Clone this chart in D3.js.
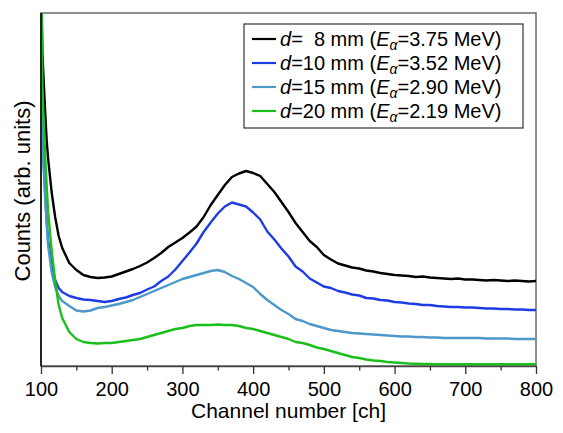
<!DOCTYPE html>
<html>
<head>
<meta charset="utf-8">
<script src="https://cdn.jsdelivr.net/npm/d3@7"></script>
<style>
  html, body { margin: 0; padding: 0; background: #fff; }
  text { font-family: "Liberation Sans", Arial, Helvetica, sans-serif; fill: #000; }
</style>
</head>
<body>
<svg id="chart" width="563" height="433"></svg>
<script>
// ---- data ----
const channels = [100,101,102,104,106,108,110,115,120,125,130,
  140,150,160,170,180,190,200,210,220,230,240,250,260,270,280,290,300,
  310,320,330,340,350,360,370,380,390,400,410,420,430,440,450,460,470,480,490,500,
  510,520,530,540,550,560,570,580,590,600,610,620,630,640,650,660,670,680,690,700,
  710,720,730,740,750,760,770,780,790,800];

const d8 = [400,360,312,282,253,226,208,174,149,130,118,
  103,96,91,89,88,88.5,89.5,92,94.5,97,100,103.5,108,113,119,123.5,128,
  133.5,139.5,149,161,171,181,189,192.5,195,193,190,182,174,164,154,143,134,125,119,111,
  106.5,102.5,100.5,98.5,97.5,95.5,94.5,93,92,91,90.5,90,89,89.5,88.5,88,87.5,87,87.5,86.5,
  86.5,86,85.5,86,85.5,85,85.5,85,84.5,85];

const d10 = [400,300,236,201,171,144,126,101,86,78,74,
  70,68,66.5,66,65,64,65,67,68.5,71,73,76.5,79.5,85,89.5,96.5,105,
  113.5,122.5,134,143.5,152.5,159.5,163.5,161.5,159.5,153.5,146.5,134.5,126.5,117.5,109.5,99.5,94.5,87.5,83.5,79.5,
  78,75,73.5,71.5,70.5,68,67.5,66,65.5,64,63.5,62.5,62,61,61,60,59.5,59,59,58.5,
  58.5,58,57.5,57.5,57,57,56.5,56.5,56,56];

const d15 = [400,290,226,194,166,144,121,94,79,70,65,
  60,55.5,54.5,55.5,58,59,60.5,62,64,66,69,72,75,78,81,84,87,
  89,91,93,95,96,94,90,87,83,79,72,66,61,56,52,47,45,42,40,38,
  36,35,34,33,32.5,32,31.5,31,30.5,30,29.5,29.5,29,29,28.5,28.5,28,28,28,28,
  28,28,27.5,27.5,27.5,27.5,27,27,27,27];

const d20 = [420,333,278,242,209,181,155,116,85,61,48,
  34,27,24,23,22.5,23,23,24,25,26,27,29,31,33,35,37,38,
  40,41,41,41,41.5,41,41,40,38,37,35,33,31,29,27,24,23,21,18.5,17,
  15,13,11,9,8,6.5,5.5,5,4,3.5,3,2.5,2.2,2,2,1.8,1.8,1.7,1.7,1.7,
  1.7,1.7,1.7,1.7,1.7,1.7,1.7,1.7,1.7,1.7];

const seriesValues = [d8, d10, d15, d20];
const distances = ["\u00a0\u00a08", "10", "15", "20"];
const energies = ["3.75", "3.52", "2.90", "2.19"];
const colors = ["#000000", "#1c3de4", "#4d97c9", "#1bbf1b"];

const xMajorTicks = [100,200,300,400,500,600,700,800];
const xMinorTicks = [150,250,350,450,550,650,750];

// ---- layout ----
const mLeft = 41, mRight = 536, mTop = 13, mBottom = 366;
const svg = d3.select("#chart");

const x = d3.scaleLinear().domain([100, 800]).range([mLeft, mRight]);
const y = d3.scaleLinear().domain([0, 353]).range([mBottom, mTop]);

svg.append("defs").append("clipPath").attr("id", "plotclip")
  .append("rect").attr("x", mLeft).attr("y", mTop)
  .attr("width", mRight - mLeft).attr("height", mBottom - mTop);

// frame (top/right)
svg.append("rect")
  .attr("x", mLeft).attr("y", mTop)
  .attr("width", mRight - mLeft).attr("height", mBottom - mTop)
  .attr("fill", "none").attr("stroke", "#6a6a6a").attr("stroke-width", 1.5);

// curves
const line = d3.line()
  .x((d, i) => x(channels[i]))
  .y(d => y(d))
  .curve(d3.curveLinear);

const g = svg.append("g").attr("clip-path", "url(#plotclip)");
seriesValues.forEach((vals, k) => {
  g.append("path")
    .datum(vals)
    .attr("d", line)
    .attr("fill", "none")
    .attr("stroke", colors[k])
    .attr("stroke-width", 2.4)
    .attr("stroke-linejoin", "round");
});

// x axis
const xAxis = svg.append("g")
  .attr("transform", `translate(0,${mBottom})`)
  .call(d3.axisBottom(x).tickValues(xMajorTicks).tickFormat(d3.format("d"))
        .tickSize(8).tickPadding(8).tickSizeOuter(0));
xAxis.select(".domain").attr("stroke", "#444").attr("stroke-width", 1.5);
xAxis.selectAll(".tick line").attr("stroke", "#333").attr("stroke-width", 1.3);
xAxis.selectAll(".tick text")
  .style("font-family", "'Liberation Sans', Arial, sans-serif")
  .style("font-size", "20px").attr("fill", "#000");

const xMinor = svg.append("g")
  .attr("transform", `translate(0,${mBottom})`)
  .call(d3.axisBottom(x).tickValues(xMinorTicks).tickSize(4.5).tickFormat(""));
xMinor.select(".domain").remove();
xMinor.selectAll(".tick line").attr("stroke", "#333").attr("stroke-width", 1.3);

// left axis (no labels)
svg.append("line")
  .attr("x1", mLeft).attr("x2", mLeft).attr("y1", mTop).attr("y2", mBottom)
  .attr("stroke", "#000").attr("stroke-width", 1.5);

// axis titles
svg.append("text")
  .attr("x", (mLeft + mRight) / 2).attr("y", 418)
  .attr("text-anchor", "middle")
  .style("font-size", "21px")
  .text("Channel number [ch]");

svg.append("text")
  .attr("transform", `translate(30,${191}) rotate(-90)`)
  .attr("text-anchor", "middle")
  .style("font-size", "22px")
  .text("Counts (arb. units)");

// legend
const lg = svg.append("g");
lg.append("rect")
  .attr("x", 244).attr("y", 24).attr("width", 279).attr("height", 104)
  .attr("fill", "#fff").attr("stroke", "#333").attr("stroke-width", 1.2);

const rowY = [39, 63, 87, 111];
distances.forEach((dist, i) => {
  lg.append("line")
    .attr("x1", 252).attr("x2", 276)
    .attr("y1", rowY[i]).attr("y2", rowY[i])
    .attr("stroke", colors[i]).attr("stroke-width", 2.2);
  const t = lg.append("text")
    .attr("x", 280).attr("y", rowY[i] + 7)
    .style("font-size", "20px");
  t.append("tspan").style("font-style", "italic").text("d");
  t.append("tspan").text("=" + dist + " mm (");
  t.append("tspan").style("font-style", "italic").text("E");
  t.append("tspan").style("font-style", "italic").style("font-size", "14px")
    .attr("dy", 4).text("\u03b1");
  t.append("tspan").attr("dy", -4).text("=" + energies[i] + " MeV)");
});
</script>
</body>
</html>
